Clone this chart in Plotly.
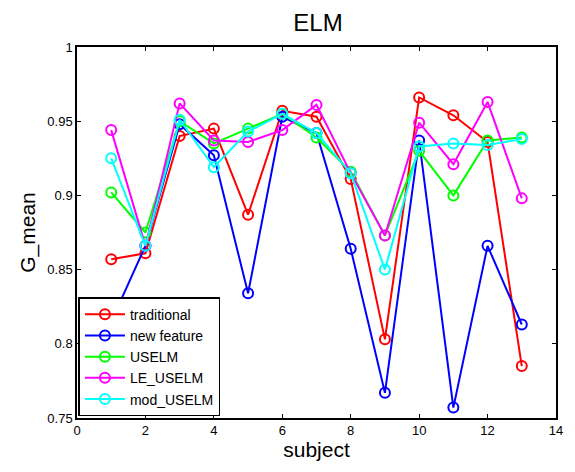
import plotly.graph_objects as go

subjects = list(range(1, 14))
traditional = [0.857, 0.861, 0.940, 0.945, 0.887, 0.957, 0.953, 0.911, 0.803, 0.966, 0.954, 0.936, 0.785]
new_feature = [0.815, 0.866, 0.948, 0.927, 0.834, 0.953, 0.942, 0.864, 0.767, 0.937, 0.757, 0.866, 0.813]
uselm = [0.902, 0.875, 0.950, 0.935, 0.945, 0.955, 0.939, 0.916, 0.873, 0.930, 0.900, 0.937, 0.939]
le_uselm = [0.944, 0.866, 0.962, 0.937, 0.936, 0.944, 0.961, 0.915, 0.873, 0.949, 0.921, 0.963, 0.898]
mod_uselm = [0.925, 0.866, 0.951, 0.919, 0.943, 0.955, 0.942, 0.915, 0.850, 0.933, 0.935, 0.934, 0.938]

series = [
    ("traditional", traditional, "#ff0000"),
    ("new feature", new_feature, "#0000ff"),
    ("USELM", uselm, "#00ff00"),
    ("LE_USELM", le_uselm, "#ff00ff"),
    ("mod_USELM", mod_uselm, "#00ffff"),
]

fig = go.Figure()
for name, vals, col in series:
    fig.add_trace(go.Scatter(
        x=subjects, y=vals, name=name, mode="lines+markers",
        line=dict(color=col, width=2),
        marker=dict(symbol="circle-open", size=10, color=col, line=dict(width=2, color=col)),
    ))

axis_common = dict(
    showgrid=False, zeroline=False, showline=True, linecolor="black", linewidth=1.5,
    mirror="ticks", ticks="inside", ticklen=4, tickcolor="black",
    tickfont=dict(family="Liberation Sans, Arial", size=13, color="black"),
)

fig.update_layout(
    width=575, height=472,
    margin=dict(l=77, r=17, t=47, b=54),
    paper_bgcolor="white", plot_bgcolor="white",
    title=dict(text="ELM", x=0.553, xanchor="center", y=0.953, yanchor="middle",
               font=dict(family="Liberation Sans, Arial", size=24, color="black")),
    xaxis=dict(range=[0, 14], tickvals=list(range(0, 15, 2)),
               title=dict(text="subject", font=dict(family="Liberation Sans, Arial", size=21, color="black"), standoff=4),
               **axis_common),
    yaxis=dict(range=[0.75, 1.0], tickvals=[0.75, 0.8, 0.85, 0.9, 0.95, 1.0],
               ticktext=["0.75", "0.8", "0.85", "0.9", "0.95", "1"],
               title=dict(text="G_mean", font=dict(family="Liberation Sans, Arial", size=21, color="black"), standoff=6),
               **axis_common),
    legend=dict(x=0.003, y=0.005, xanchor="left", yanchor="bottom",
                bgcolor="white", bordercolor="black", borderwidth=1.5,
                font=dict(family="Liberation Sans, Arial", size=14, color="black"),
                tracegroupgap=0, itemwidth=40),
    showlegend=True,
)

fig.write_html("out.html")
